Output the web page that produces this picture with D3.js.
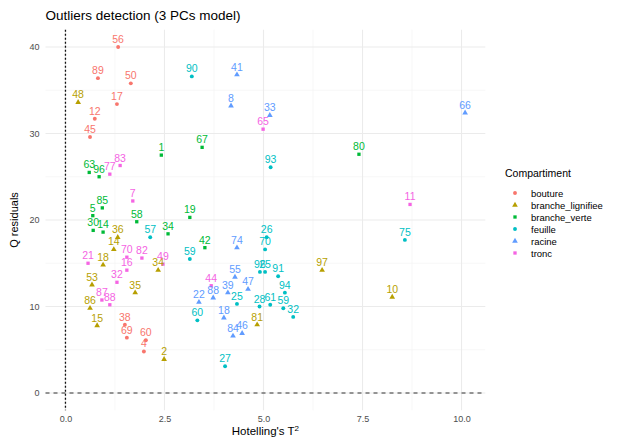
<!DOCTYPE html>
<html>
<head>
<meta charset="utf-8">
<script src="https://cdn.jsdelivr.net/npm/d3@7"></script>
<style>
  html, body { margin: 0; padding: 0; background: #fff; }
  svg { display: block; font-family: "Liberation Sans", Arial, sans-serif; }
</style>
</head>
<body>
<svg id="chart" width="618" height="439"></svg>
<script>
// Compartment levels, colours and marker shapes
const compartments = ["bouture", "branche_lignifiee", "branche_verte", "feuille", "racine", "tronc"];
const compartmentColors = ["#F8766D", "#B79F00", "#00BA38", "#00BFC4", "#619CFF", "#F564E3"];
const compartmentShapes = ["circle", "triangle", "square", "circle", "triangle", "square"];

// Samples: id, compartment index, Hotelling's T2, Q residual
const sampleIds = [
  "56","89","50","17","12","45","38","69","60","4",
  "48","2","97","10","81","35","34","53","86","15","36","14","18",
  "1","67","80","63","96","19","5","85","58","34","42","30","14",
  "90","93","57","75","26","70","59","60","27","25","28","61","59","32","94","96","25","91",
  "41","8","33","66","74","55","47","22","88","18","84","46","39",
  "65","83","77","7","11","21","16","82","70","49","32","87","88","44"
];
const sampleGroup = [
  0,0,0,0,0,0,0,0,0,0,
  1,1,1,1,1,1,1,1,1,1,1,1,1,
  2,2,2,2,2,2,2,2,2,2,2,2,2,
  3,3,3,3,3,3,3,3,3,3,3,3,3,3,3,3,3,3,
  4,4,4,4,4,4,4,4,4,4,4,4,4,
  5,5,5,5,5,5,5,5,5,5,5,5,5,5
];
const hotellingT2 = [
  1.33,0.82,1.65,1.30,0.74,0.62,1.50,1.55,2.03,1.98,
  0.32,2.49,6.48,8.25,4.84,1.76,2.34,0.67,0.62,0.80,1.32,1.22,0.95,
  2.42,3.45,7.41,0.60,0.85,3.14,0.69,0.93,1.80,2.59,3.52,0.70,0.95,
  3.19,5.18,2.14,8.57,5.08,5.04,3.14,3.33,4.03,4.33,4.90,5.17,5.50,5.75,5.54,4.91,5.04,5.37,
  4.33,4.18,5.16,10.09,4.33,4.28,4.61,3.37,3.73,4.00,4.23,4.46,4.10,
  4.99,1.38,1.12,1.70,8.70,0.57,1.55,1.93,1.55,2.46,1.30,0.92,1.12,3.68
];
const qResiduals = [
  40.0,36.4,35.8,33.4,31.7,29.6,7.9,6.4,6.1,4.8,
  33.6,3.9,14.2,11.1,7.9,11.6,14.2,12.5,9.8,7.8,18.0,16.6,14.8,
  27.5,28.4,27.6,25.5,25.0,20.3,20.5,21.4,19.8,18.4,16.8,18.8,18.6,
  36.6,26.1,18.0,17.7,18.0,16.6,15.5,8.4,3.1,10.3,10.0,10.2,9.8,8.8,11.6,14.0,14.0,13.5,
  36.8,33.2,32.1,32.4,16.8,13.4,12.0,10.5,11.0,8.7,6.6,6.9,11.6,
  30.5,26.3,25.3,22.2,21.8,15.0,14.2,15.6,15.7,14.9,12.8,10.75,10.2,12.4
];

// Axis breaks
const xMajor = [0, 2.5, 5, 7.5, 10];
const xMinor = [1.25, 3.75, 6.25, 8.75];
const yMajor = [0, 10, 20, 30, 40];
const yMinor = [5, 15, 25, 35];

const samples = sampleIds.map((id, i) => ({
  id, group: sampleGroup[i], t2: hotellingT2[i], q: qResiduals[i]
}));

const svg = d3.select("#chart");

// Scales with 5% expansion around the data and zero reference lines
const x = d3.scaleLinear().domain([-0.504, 10.6]).range([45.5, 485.3]);
const y = d3.scaleLinear().domain([-2, 42]).range([410.3, 29.7]);
const [pl, pr] = x.range();
const [pb, pt] = y.range();

// Grid lines
const grid = svg.append("g");
grid.selectAll(".xminor").data(xMinor).join("line")
  .attr("x1", d => x(d)).attr("x2", d => x(d))
  .attr("y1", pt).attr("y2", pb)
  .attr("stroke", "#f2f2f2").attr("stroke-width", 0.6);
grid.selectAll(".yminor").data(yMinor).join("line")
  .attr("y1", d => y(d)).attr("y2", d => y(d))
  .attr("x1", pl).attr("x2", pr)
  .attr("stroke", "#f2f2f2").attr("stroke-width", 0.6);
grid.selectAll(".xmajor").data(xMajor).join("line")
  .attr("x1", d => x(d)).attr("x2", d => x(d))
  .attr("y1", pt).attr("y2", pb)
  .attr("stroke", "#ebebeb").attr("stroke-width", 1.1);
grid.selectAll(".ymajor").data(yMajor).join("line")
  .attr("y1", d => y(d)).attr("y2", d => y(d))
  .attr("x1", pl).attr("x2", pr)
  .attr("stroke", "#ebebeb").attr("stroke-width", 1.1);

// Reference lines at zero
svg.append("line")
  .attr("x1", pl).attr("x2", pr)
  .attr("y1", y(0)).attr("y2", y(0))
  .attr("stroke", "#333").attr("stroke-width", 1).attr("stroke-dasharray", "4,4");
svg.append("line")
  .attr("x1", x(0)).attr("x2", x(0))
  .attr("y1", pt).attr("y2", pb)
  .attr("stroke", "#111").attr("stroke-width", 1.3).attr("stroke-dasharray", "2,2");

// Axes (tick labels only)
const xAxis = d3.axisBottom(x).tickValues(xMajor).tickFormat(d3.format(".1f")).tickSize(0).tickPadding(5);
const gx = svg.append("g").attr("transform", `translate(0,${pb})`).call(xAxis);
const yAxis = d3.axisLeft(y).tickValues(yMajor).tickFormat(d3.format("d")).tickSize(0).tickPadding(6);
const gy = svg.append("g").attr("transform", `translate(${pl},0)`).call(yAxis);
[gx, gy].forEach(g => {
  g.select(".domain").remove();
  g.selectAll("text").attr("fill", "#4d4d4d").attr("font-size", 9)
    .attr("font-family", "Liberation Sans, Arial, sans-serif");
});

// Axis titles and chart title
svg.append("text").attr("x", (pl + pr) / 2).attr("y", 435)
  .attr("text-anchor", "middle").attr("font-size", 11.5).attr("fill", "#000")
  .html("Hotelling's T<tspan dy='-4.5' font-size='8'>2</tspan>");
svg.append("text").attr("transform", `translate(18,${(pt + pb) / 2}) rotate(-90)`)
  .attr("text-anchor", "middle").attr("font-size", 11).attr("fill", "#000")
  .text("Q residuals");
svg.append("text").attr("x", pl).attr("y", 20)
  .attr("font-size", 13.5).attr("fill", "#000")
  .text("Outliers detection (3 PCs model)");

// Marker path per shape
const symbolFor = s => s === "triangle" ? d3.symbolTriangle : s === "square" ? d3.symbolSquare : d3.symbolCircle;
const symbolSize = s => s === "triangle" ? 14 : s === "square" ? 11 : 12;

// Points
svg.append("g").selectAll("path").data(samples).join("path")
  .attr("transform", d => `translate(${x(d.t2)},${y(d.q)})`)
  .attr("d", d => d3.symbol().type(symbolFor(compartmentShapes[d.group])).size(symbolSize(compartmentShapes[d.group]))())
  .attr("fill", d => compartmentColors[d.group]);

// Sample labels above each point
svg.append("g").selectAll("text").data(samples).join("text")
  .attr("x", d => x(d.t2)).attr("y", d => y(d.q) - 4)
  .attr("text-anchor", "middle").attr("font-size", 10.5)
  .attr("fill", d => compartmentColors[d.group])
  .text(d => d.id);

// Legend
const legend = svg.append("g").attr("transform", "translate(505,173)");
legend.append("text").attr("x", 0).attr("y", 4).attr("font-size", 10.5).attr("fill", "#000").text("Compartiment");
const items = legend.selectAll(".item").data(compartments).join("g")
  .attr("transform", (d, i) => `translate(0,${20 + i * 12})`);
items.append("path")
  .attr("transform", "translate(10,0)")
  .attr("d", (d, i) => d3.symbol().type(symbolFor(compartmentShapes[i])).size(symbolSize(compartmentShapes[i]))())
  .attr("fill", (d, i) => compartmentColors[i]);
items.append("text").attr("x", 26).attr("y", 3.5).attr("font-size", 9.5).attr("fill", "#000").text(d => d);
</script>
</body>
</html>
